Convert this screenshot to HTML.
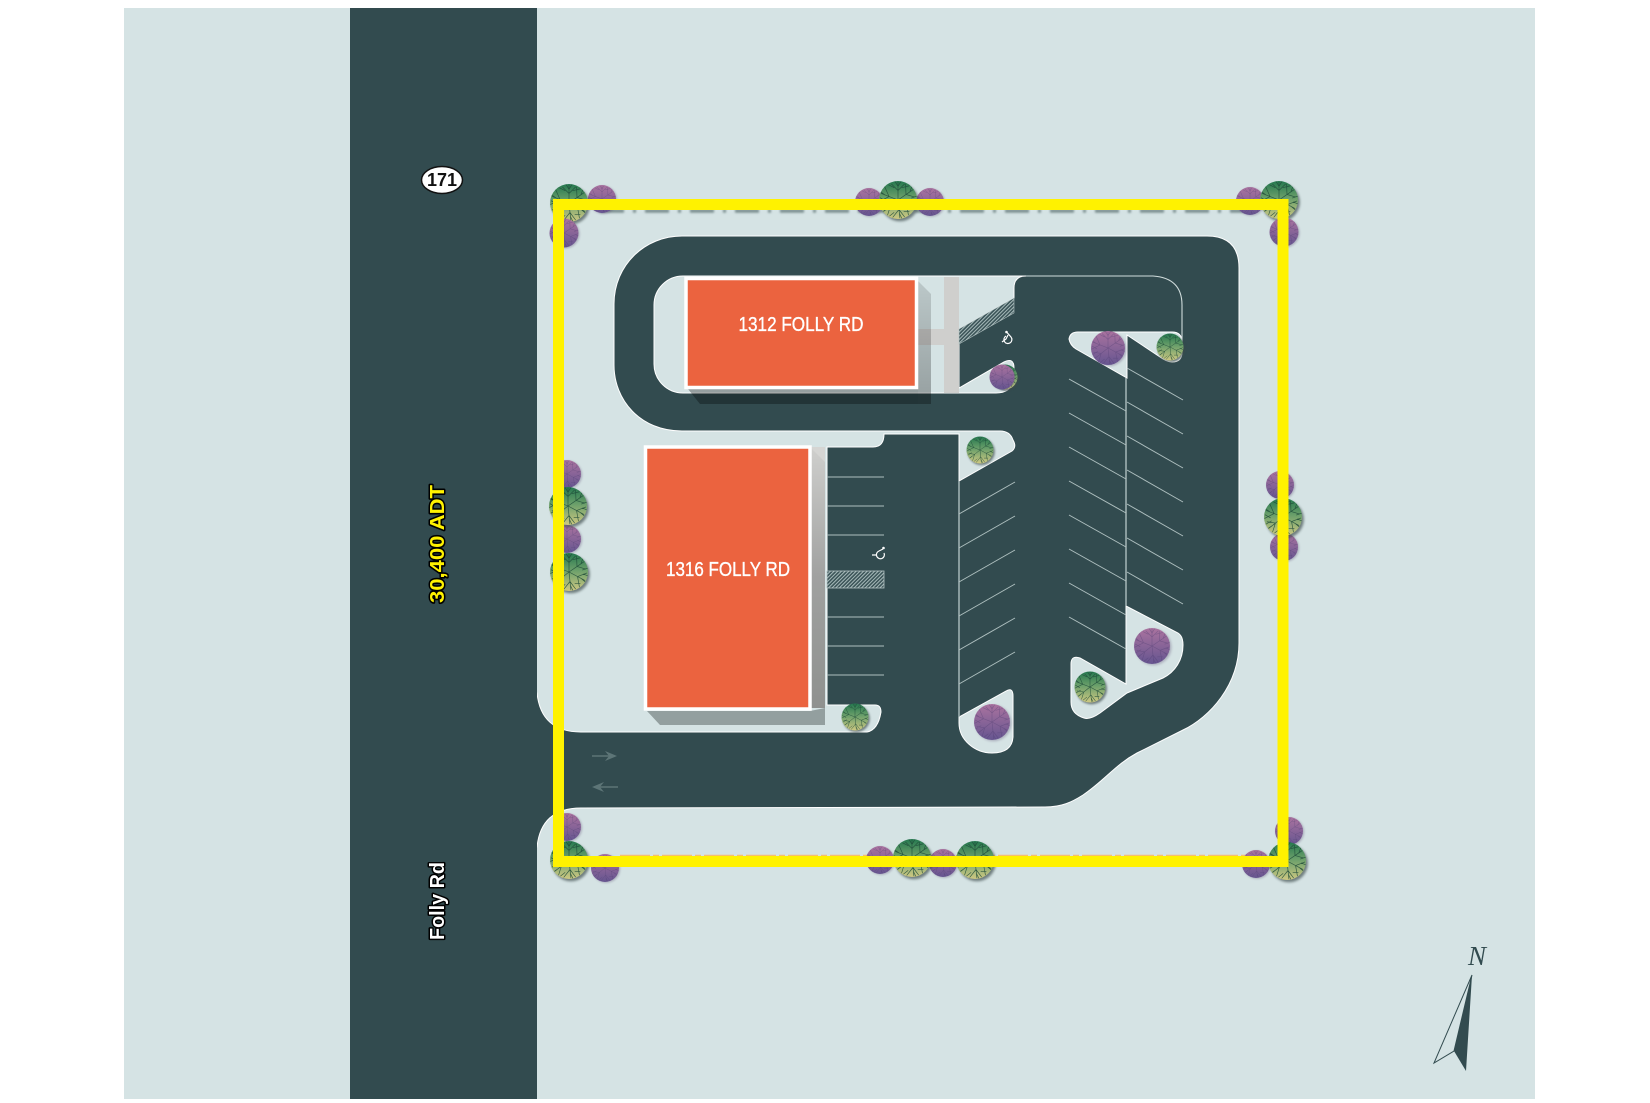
<!DOCTYPE html>
<html><head><meta charset="utf-8"><title>Site plan</title>
<style>html,body{margin:0;padding:0;background:#fff}svg{display:block}</style></head>
<body>
<svg xmlns="http://www.w3.org/2000/svg" width="1650" height="1103" viewBox="0 0 1650 1103">
<defs>
<linearGradient id="gg" x1="0" y1="0" x2="0" y2="1"><stop offset="0" stop-color="#25784f"/><stop offset=".45" stop-color="#6a9f6a"/><stop offset="1" stop-color="#cdc882"/></linearGradient>
<linearGradient id="pg" x1="0" y1="0" x2="0" y2="1"><stop offset="0" stop-color="#aa739f"/><stop offset="1" stop-color="#665590"/></linearGradient>
<linearGradient id="s1" x1="0" y1="0" x2="0" y2="1"><stop offset="0" stop-color="#000" stop-opacity=".12"/><stop offset="1" stop-color="#000" stop-opacity=".3"/></linearGradient>
<linearGradient id="s2" x1="0" y1="0" x2="0" y2="1"><stop offset="0" stop-color="#cfcfcd"/><stop offset=".5" stop-color="#a0a1a0"/><stop offset="1" stop-color="#8f918f"/></linearGradient>
<filter id="b" x="-50%" y="-50%" width="200%" height="200%"><feGaussianBlur stdDeviation=".07"/></filter>
<filter id="b2" filterUnits="userSpaceOnUse" x="0" y="0" width="1650" height="1103"><feGaussianBlur stdDeviation="1"/></filter>
<pattern id="h" width="2.6" height="2.6" patternUnits="userSpaceOnUse" patternTransform="rotate(45)"><rect width="2.6" height="2.6" fill="#3a5357"/><rect width="1" height="2.6" fill="#a9bcbc"/></pattern>
<g id="v" fill="none" stroke-width=".035">
<path d="M0,0L0,-.95M0,0L.8,-.55M0,0L.85,.45M0,0L.1,.95M0,0L-.75,.6M0,0L-.9,-.35M0,-.5L-.35,-.85M0,-.5L.35,-.85M.42,-.29L.9,-.15M.42,-.29L.4,-.85M.45,.24L.95,.05M.45,.24L.55,.8M.05,.5L.35,.9M.05,.5L-.28,.92M-.4,.32L-.85,.25M-.4,.32L-.55,.8M-.47,-.18L-.7,-.7M-.47,-.18L-.98,.08M0,-.72L-.15,-.97M0,-.72L.15,-.97M.62,-.42L.72,-.68M.65,.35L.85,.52M.08,.72L.2,.96M-.58,.46L-.78,.6M-.68,-.26L-.9,-.42M.2,-.65L.6,-.75M-.2,-.65L-.5,-.8M.7,-.1L.98,-.2M.75,.1L.98,.2M.3,.6L.6,.6M-.2,.65L-.45,.85M-.65,.05L-.95,-.12M-.6,.2L-.9,.38"/>
</g>
<g id="G"><circle cx=".1" cy=".12" r="1" fill="#3a4a4a" opacity=".65" filter="url(#b)"/><circle r="1" fill="url(#gg)"/><use href="#v" stroke="#1d4a38" stroke-opacity=".85"/></g>
<g id="P"><circle cx=".08" cy=".06" r="1" fill="#5a4a70" opacity=".35" filter="url(#b)"/><circle r="1" fill="url(#pg)"/><use href="#v" stroke="#4e3d70" stroke-opacity=".4"/></g>
</defs>

<rect x="124" y="8" width="1411" height="1091" fill="#d5e3e4"/>

<!-- pavement -->
<path d="M530,693 L537,693 Q541,732 581,732 L867,732 Q878,730 881,712 Q881,705 875,705 L827,705 L827,447 L873,447 Q884,447 884,434 L959,434 L959,481 L1012,451 Q1017,447 1013,440 Q1010,431 1000,431 L682,431 C640,431 614,400 614,365 L614,304 C614,265 645,236 682,236 L1207,236 Q1239,236 1239,268 L1239,643 C1239,685 1210,717 1183,730 L1137,753 C1115,765 1105,780 1083,795 C1072,802 1062,807 1045,807 L581,808 Q541,808 537,847 L530,847 Z" fill="#324b4f" stroke="#fff" stroke-width="1"/>
<rect x="350" y="8" width="187" height="1091" fill="#324b4f"/>

<!-- islands -->
<g fill="#d5e3e4" stroke="#fff" stroke-width="1">
<path d="M683,276 L1026,276 Q1014,276 1014,288 L1014,298 L959,329 L959,388 L1004,362 Q1014,357 1014,368 L1014,378 Q1012,393 996,393 L683,393 A29,29 0 0 1 654,364 L654,305 A29,29 0 0 1 683,276Z"/>
<path d="M1078,332 L1172,332 Q1182,332 1182,342 L1182,352 Q1182,362 1172,362 Q1167,362 1160,357 L1127,335 L1127,378 L1076,349 Q1070,345 1069,339 Q1070,332 1078,332Z"/>
<path d="M1126,606 L1178,633 Q1183,636 1183,645 C1183,660 1175,672 1163,678 L1127,693 L1100,713 Q1090,720 1084,718 Q1071,714 1071,702 L1071,664 Q1071,655 1080,658 L1126,684 Z"/>
<path d="M959,717 L1006,691 Q1013,687 1013,696 L1013,737 Q1012,753 992,753 C975,753 959,740 959,723Z"/>
</g>
<path d="M1026,276 L1153,276 Q1182,278 1182,305 L1182,342" fill="none" stroke="#d0dcdc" stroke-width="1.1"/>

<!-- sidewalks -->
<rect x="944" y="277" width="15" height="116" fill="#cfcfcd"/>
<rect x="918" y="329" width="26" height="16" fill="#cfcfcd"/>
<polygon points="959,329 1014,298 1014,313 959,344" fill="url(#h)" stroke="#b5c4c4" stroke-width=".6"/>

<!-- parking lines -->
<g stroke="#aebfbf" stroke-width="1" fill="none">
<path d="M959,481V717M1126,378V606" stroke-width="1.4"/>
<path d="M959,514L1015,482M959,548L1015,516M959,582L1015,550M959,616L1015,584M959,650L1015,618M959,684L1015,652"/>
<path d="M1069,379L1126,411M1069,413L1126,445M1069,447L1126,479M1069,481L1126,513M1069,515L1126,547M1069,549L1126,581M1069,583L1126,615M1069,617L1126,649"/>
<path d="M1127,368L1183,400M1127,402L1183,434M1127,436L1183,468M1127,470L1183,502M1127,504L1183,536M1127,538L1183,570M1127,572L1183,604"/>
<path d="M827,477H884M827,506H884M827,535H884M827,617H884M827,646H884M827,675H884"/>
</g>
<rect x="827" y="571" width="57" height="17" fill="url(#h)" stroke="#b5c4c4" stroke-width=".8"/>

<!-- wheelchair marks -->
<g fill="none" stroke="#fff" stroke-width="1.2">
<g transform="translate(1008,338)"><path d="M-1,-5.5L3,-1 A4,4 0 1 1 -2,-2 M-6,4L-2,1L0,-3"/><circle cx="-1.5" cy="-6" r=".7"/></g>
<g transform="translate(878,554)"><path d="M5,-5L1,-3 A4,4 0 1 0 6,-1 M-6,1L-1,1"/><circle cx="5.5" cy="-6" r=".7"/></g>
</g>

<!-- arrows -->
<g fill="#5d7577" stroke="#5d7577" stroke-width="1.4">
<path d="M592,756H610" fill="none"/><polygon points="617,756 605,751 609,756 605,761" stroke="none"/>
<path d="M600,787H618" fill="none"/><polygon points="592,787 604,782 600,787 604,792" stroke="none"/>
</g>

<!-- building 1312 -->
<polygon points="918,281 931,294 931,404 918,404 918,389 918,281" fill="url(#s1)"/>
<polygon points="688,389 700,404 918,404 918,389" fill="#000" fill-opacity=".3"/>
<rect x="686" y="278.5" width="230.5" height="109" fill="#eb633f" stroke="#fff" stroke-width="3.5"/>
<text x="801" y="331" font-family="Liberation Sans,sans-serif" font-size="20" fill="#fff" stroke="#fff" stroke-width=".35" text-anchor="middle" textLength="125" lengthAdjust="spacingAndGlyphs">1312 FOLLY RD</text>

<!-- building 1316 -->
<rect x="810" y="447" width="15" height="261" fill="url(#s2)"/>
<polygon points="810,447 825,447 825,462" fill="#d5d5d3"/>
<polygon points="647,711 660,725 825,725 825,708 810,711" fill="#939f9f"/>
<rect x="645.5" y="447" width="164.5" height="262" fill="#eb633f" stroke="#fff" stroke-width="3.5"/>
<text x="728" y="576" font-family="Liberation Sans,sans-serif" font-size="20" fill="#fff" stroke="#fff" stroke-width=".35" text-anchor="middle" textLength="124" lengthAdjust="spacingAndGlyphs">1316 FOLLY RD</text>

<!-- faint dashes beneath boundary -->
<path d="M600,211H1250" stroke="#7c8f90" stroke-width="3.5" stroke-dasharray="24 9 3 9" fill="none" filter="url(#b2)"/>
<path d="M620,855.5H1250" stroke="#ffb24a" stroke-width="1.5" stroke-dasharray="30 3 6 3" fill="none" opacity=".75"/>

<!-- trees -->
<use href="#P" transform="translate(602,199) scale(14)"/>
<use href="#G" transform="translate(569,203) scale(19)"/>
<use href="#P" transform="translate(564,233) scale(14.5)"/>
<use href="#P" transform="translate(869,202) scale(14)"/>
<use href="#P" transform="translate(930,202) scale(14)"/>
<use href="#G" transform="translate(898,200) scale(19)"/>
<use href="#P" transform="translate(1250,201) scale(14)"/>
<use href="#G" transform="translate(1279,200) scale(19)"/>
<use href="#P" transform="translate(1284,232) scale(14.5)"/>
<use href="#G" transform="translate(1005,377) scale(12.5)"/>
<use href="#P" transform="translate(1002,377) scale(12.5)"/>
<use href="#P" transform="translate(1108,348) scale(17)"/>
<use href="#G" transform="translate(1170,347) scale(13.5)"/>
<use href="#G" transform="translate(980,450) scale(13.5)"/>
<use href="#P" transform="translate(1280,485) scale(14)"/>
<use href="#P" transform="translate(1284,547) scale(14)"/>
<use href="#G" transform="translate(1283,517) scale(19)"/>
<use href="#P" transform="translate(567,474) scale(14)"/>
<use href="#P" transform="translate(567,539) scale(14)"/>
<use href="#G" transform="translate(568,506) scale(19)"/>
<use href="#G" transform="translate(569,572) scale(19)"/>
<use href="#G" transform="translate(855,717) scale(13.5)"/>
<use href="#P" transform="translate(992,722) scale(18)"/>
<use href="#P" transform="translate(1152,646) scale(18)"/>
<use href="#G" transform="translate(1090,687) scale(15.5)"/>
<use href="#P" transform="translate(567,827) scale(14)"/>
<use href="#P" transform="translate(605,868) scale(14)"/>
<use href="#G" transform="translate(569,860) scale(19)"/>
<use href="#P" transform="translate(880,860) scale(14)"/>
<use href="#P" transform="translate(943,863) scale(14)"/>
<use href="#G" transform="translate(912,858) scale(19)"/>
<use href="#G" transform="translate(975,860) scale(19)"/>
<use href="#P" transform="translate(1289,831) scale(14)"/>
<use href="#P" transform="translate(1256,864) scale(14)"/>
<use href="#G" transform="translate(1287,861) scale(19)"/>

<!-- boundary -->
<rect x="558.5" y="204.5" width="724.5" height="657" fill="none" stroke="#fff200" stroke-width="11"/>

<!-- labels -->
<ellipse cx="442" cy="180" rx="20.5" ry="13.5" fill="#fff" stroke="#111" stroke-width="1.5"/>
<text x="442" y="186" font-family="Liberation Sans,sans-serif" font-size="18" font-weight="bold" fill="#111" text-anchor="middle">171</text>
<text transform="translate(444,544) rotate(-90)" font-family="Liberation Sans,sans-serif" font-size="20" font-weight="bold" fill="#fff200" stroke="#000" stroke-width="3" paint-order="stroke" stroke-linejoin="round" text-anchor="middle" textLength="118" lengthAdjust="spacingAndGlyphs">30,400 ADT</text>
<text transform="translate(444,901) rotate(-90)" font-family="Liberation Sans,sans-serif" font-size="20" font-weight="bold" fill="#fff" stroke="#000" stroke-width="3" paint-order="stroke" stroke-linejoin="round" text-anchor="middle" textLength="78" lengthAdjust="spacingAndGlyphs">Folly Rd</text>

<!-- north arrow -->
<text x="1477" y="965" font-family="Liberation Serif,serif" font-size="27" font-style="italic" fill="#324b4f" text-anchor="middle">N</text>
<polygon points="1472,975 1434,1063 1454,1051" fill="#d5e3e4" stroke="#324b4f" stroke-width="1"/>
<polygon points="1472,975 1454,1051 1466,1071" fill="#324b4f"/>
</svg>
</body></html>
